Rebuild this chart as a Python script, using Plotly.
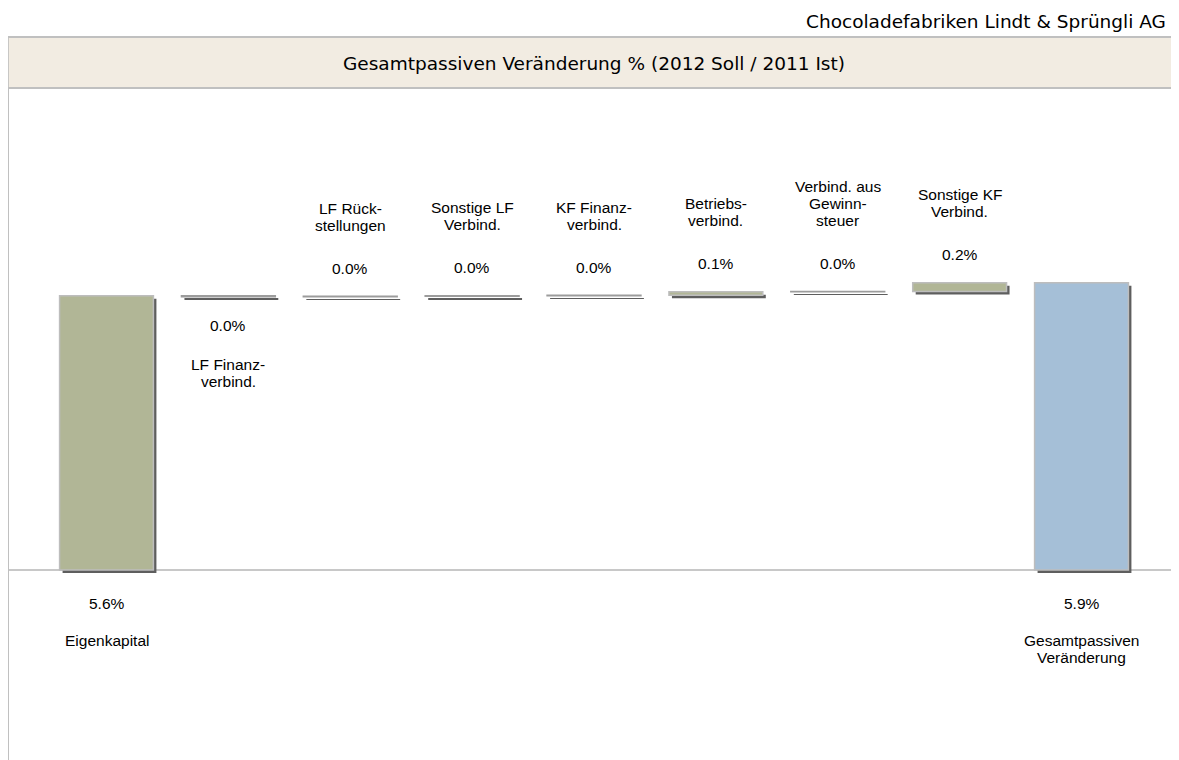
import numpy as np
import plotly.graph_objects as go

# ---- data ----
categories = ["Eigenkapital", "LF Finanz-<br>verbind.", "LF Rück-<br>stellungen", "Sonstige LF<br>Verbind.",
              "KF Finanz-<br>verbind.", "Betriebs-<br>verbind.", "Verbind. aus<br>Gewinn-<br>steuer",
              "Sonstige KF<br>Verbind.", "Gesamtpassiven<br>Veränderung"]
changes = [5.62, -0.02, 0.01, 0.01, 0.01, 0.07, 0.005, 0.18]   # Eigenkapital + steps
company = "Chocoladefabriken Lindt & Sprüngli AG"
title = "Gesamtpassiven Veränderung % (2012 Soll / 2011 Ist)"

# ---- derived waterfall geometry ----
vals = np.array(changes)
cum = np.cumsum(vals)
total = cum[-1]
bases = np.concatenate([[0.0], cum[:-1], [0.0]])
heights = np.concatenate([vals, [total]])
x = list(range(len(categories)))

OLIVE = "#B1B696"
BLUE = "#A5BFD7"
SHADOW = "#5E5E5E"
EDGE = "#BDBDBD"
EDGE_THIN = "#9C9C9C"
colors = [OLIVE] * len(changes) + [BLUE]
edges = [EDGE_THIN if abs(h) < 0.05 else EDGE for h in heights]

# page has an 8px body margin; figure sized to fill the rest of the window
W, H = 1171, 752
ML, MR, MT, MB = 1, 0, 80, 0
xr = [-0.80, 8.80]
yr = [-3.893, 9.877]
pw = W - ML - MR
ph = H - MT - MB
dx = 3 * (xr[1] - xr[0]) / pw
dy = 3 * (yr[1] - yr[0]) / ph

fig = go.Figure()
fig.add_trace(go.Bar(x=x, y=heights, base=bases, width=0.77,
                     marker=dict(color=SHADOW, line=dict(width=0)),
                     xaxis="x", yaxis="y", hoverinfo="skip", showlegend=False))
fig.add_trace(go.Bar(x=x, y=heights, base=bases, width=0.77,
                     marker=dict(color=colors, line=dict(color=edges, width=1.5)),
                     xaxis="x2", yaxis="y2", showlegend=False))

LBL = dict(family="Liberation Sans, Arial, sans-serif", size=15.5, color="#000000")
LINE = 17
annotations = []
n = len(categories)


def add(i, y, text, shift):
    annotations.append(dict(x=i, y=y, xref="x2", yref="y2", text=text, showarrow=False,
                            yanchor="middle", yshift=shift, font=LBL))


for i in range(n):
    v = heights[i]
    b = bases[i]
    s = f"{v:.1f}%"
    if s == "-0.0%":
        s = "0.0%"
    lines = categories[i].split("<br>")
    k = len(lines)
    if i == 0 or i == n - 1:
        add(i, 0, s, -33)
        for j, ln in enumerate(lines):
            add(i, 0, ln, -(70 + LINE * j))
    elif v >= 0:
        top = b + v
        add(i, top, s, 28)
        for j, ln in enumerate(lines):
            add(i, top, ln, 71 + LINE * (k - 1 - j))
    else:
        bot = b + v
        add(i, bot, s, -29)
        for j, ln in enumerate(lines):
            add(i, bot, ln, -(68 + LINE * j))

HEAD = dict(family="DejaVu Sans, Verdana, sans-serif", size=18.5, color="#000000")
annotations.append(dict(x=0.5, y=1 + 25 / ph, xref="paper", yref="paper", text=title, showarrow=False,
                        xanchor="center", yanchor="middle", font=HEAD))
annotations.append(dict(x=1, y=1 + 66 / ph, xref="paper", yref="paper", text=company, showarrow=False,
                        xanchor="right", yanchor="middle", xshift=-11, font=HEAD))

shapes = [dict(type="rect", xref="paper", yref="paper", x0=-0.001, x1=1.01, y0=1, y1=1 + 51 / ph,
               fillcolor="#F2ECE2", line=dict(color="#C0C0C0", width=2), layer="below")]

fig.update_layout(
    width=W, height=H,
    margin=dict(l=ML, r=MR, t=MT, b=MB, pad=0),
    paper_bgcolor="white", plot_bgcolor="rgba(0,0,0,0)",
    barmode="overlay", showlegend=False,
    xaxis=dict(range=[xr[0] - dx, xr[1] - dx], visible=False, fixedrange=True),
    yaxis=dict(range=[yr[0] + dy, yr[1] + dy], visible=False, fixedrange=True),
    xaxis2=dict(range=xr, overlaying="x", visible=True, showticklabels=False, showgrid=False,
                zeroline=False, showline=False, ticks=""),
    yaxis2=dict(range=yr, overlaying="y", showticklabels=False, showgrid=False, ticks="",
                zeroline=True, zerolinecolor="#C8C8C8", zerolinewidth=2,
                showline=True, linecolor="#C0C0C0", linewidth=2),
    annotations=annotations, shapes=shapes,
)

fig.write_html("out.html")
